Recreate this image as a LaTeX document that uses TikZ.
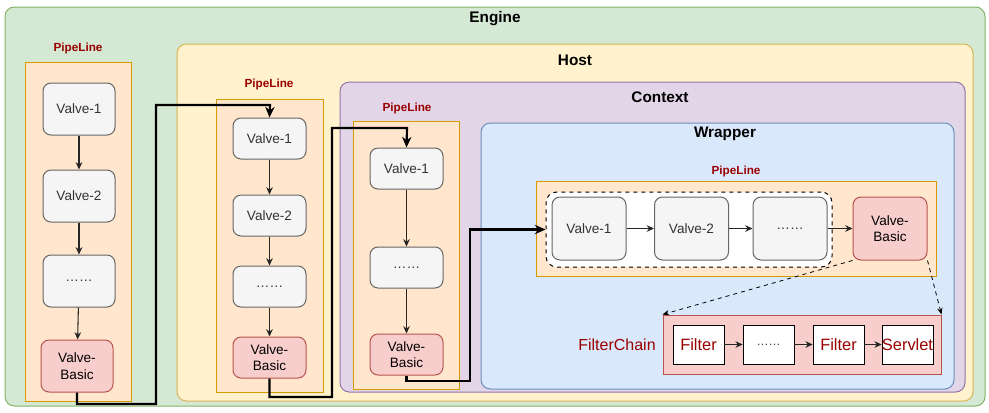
\documentclass[tikz,border=0pt]{standalone}
\usepackage{fontspec}
\setmainfont{Liberation Sans}
\usetikzlibrary{arrows.meta, positioning, fit, calc}

\definecolor{engineFill}{HTML}{D5E8D4}
\definecolor{engineLine}{HTML}{82B366}
\definecolor{hostFill}{HTML}{FFF2CC}
\definecolor{hostLine}{HTML}{D6B656}
\definecolor{ctxFill}{HTML}{E1D5E7}
\definecolor{ctxLine}{HTML}{9673A6}
\definecolor{wrapFill}{HTML}{DAE8FC}
\definecolor{wrapLine}{HTML}{6C8EBF}
\definecolor{pipeFill}{HTML}{FFE6CC}
\definecolor{pipeLine}{HTML}{D79B00}
\definecolor{valveFill}{HTML}{F5F5F5}
\definecolor{valveLine}{HTML}{666666}
\definecolor{valveText}{HTML}{333333}
\definecolor{basicFill}{HTML}{F8CECC}
\definecolor{basicLine}{HTML}{B85450}
\definecolor{darkRed}{HTML}{990000}

\tikzset{
  layer/.style={draw, rounded corners=7pt, inner sep=0pt, line width=0.75pt},
  pipe/.style={draw=pipeLine, fill=pipeFill, inner sep=0pt, line width=0.75pt},
  title/.style={font=\bfseries\fontsize{11.5}{13}\selectfont},
  pipetitle/.style={font=\bfseries\fontsize{8.8}{10}\selectfont, text=darkRed},
  vsize/.style 2 args={minimum width=#1, minimum height=#2},
  valve/.style={draw=valveLine, fill=valveFill, rounded corners=6pt, text=valveText,
    font=\fontsize{10.2}{12.5}\selectfont, align=center, inner sep=0pt, line width=0.75pt},
  basic/.style={valve, draw=basicLine, fill=basicFill, text=black},
  filterbox/.style={draw=black, fill=white, inner sep=0pt, vsize={38.25pt}{29.25pt},
    text=darkRed, font=\fontsize{12.3}{14}\selectfont},
  link/.style={-{Stealth[length=5.5pt,width=5pt]}, line width=0.8pt, draw=black!85},
  flow/.style={-{Stealth[length=8pt,width=7pt]}, line width=1.6pt},
  hint/.style={-{Stealth[length=5pt,width=4pt]}, dashed, line width=0.6pt}
}

\begin{document}
\begin{tikzpicture}[x=0.75pt, y=-0.75pt]
\useasboundingbox (0,0) rectangle (989,412);

% nested containers
\node[layer, draw=engineLine, fill=engineFill, fit={(5,7) (985,406)}] (engine) {};
\node[title] (engine-t) at (495,19) {Engine};
\node[layer, draw=hostLine, fill=hostFill, fit={(177,44) (973,401)}] (host) {};
\node[title] (host-t) at (575,60) {Host};
\node[layer, draw=ctxLine, fill=ctxFill, fit={(340,82) (965,392)}] (context) {};
\node[title] (context-t) at (660,97) {Context};
\node[layer, draw=wrapLine, fill=wrapFill, fit={(481,123) (954,389)}] (wrapper) {};
\node[title] (wrapper-t) at (725,134) {Wrapper};

% pipelines
\node[pipe, fit={(25,62) (131,401)}] (pipe-a) {};
\node[pipetitle] at (78,48) {PipeLine};
\node[pipe, fit={(216,99) (323,392)}] (pipe-b) {};
\node[pipetitle] at (269,84) {PipeLine};
\node[pipe, fit={(353,121) (459,389)}] (pipe-c) {};
\node[pipetitle] at (407,108) {PipeLine};
\node[pipe, fit={(536,181) (936,276)}] (pipe-d) {};
\node[pipetitle] at (736,171) {PipeLine};
\node[draw, dashed, fill=white, rounded corners=8pt, line width=0.75pt, inner sep=0pt,
  fit={(546,192) (832,267)}] (dash) {};

% Engine pipeline
\foreach \name/\y/\txt in {pa1/109/Valve-1, pa2/196/Valve-2, pa3/281/……}
  \node[valve, vsize={54pt}{39pt}] (\name) at (79,\y) {\txt};
\node[basic, vsize={54pt}{39pt}] (pa4) at (77,366) {Valve-\\Basic};

% Host pipeline
\foreach \name/\y/\txt in {pb1/138.5/Valve-1, pb2/215.5/Valve-2, pb3/286.5/……}
  \node[valve, vsize={54.75pt}{30.75pt}] (\name) at (269.5,\y) {\txt};
\node[basic, vsize={54.75pt}{30.75pt}] (pb4) at (269.5,357.5) {Valve-\\Basic};

% Context pipeline
\foreach \name/\y/\txt in {pc1/168.5/Valve-1, pc2/267.5/……}
  \node[valve, vsize={54.75pt}{30.75pt}] (\name) at (406.5,\y) {\txt};
\node[basic, vsize={54.75pt}{30.75pt}] (pc3) at (406.5,354.5) {Valve-\\Basic};

% Wrapper pipeline
\foreach \name/\x/\txt in {pd1/589/Valve-1, pd2/691.5/Valve-2, pd3/790/……}
  \node[valve, vsize={55.5pt}{47.25pt}] (\name) at (\x,228.5) {\txt};
\node[basic, vsize={55.5pt}{47.25pt}] (pd4) at (890,228.5) {Valve-\\Basic};

% filter chain
\node[draw=basicLine, fill=basicFill, inner sep=0pt, line width=0.75pt,
  fit={(663,315) (941,374)}] (chain) {};
\node[text=darkRed, font=\fontsize{12}{14}\selectfont] (chain-t) at (617,345) {FilterChain};
\foreach \name/\x/\txt in {f1/698.5/Filter, f2/768.5/{\textcolor{valveText}{\small ……}}, f3/838.5/Filter, f4/907.5/Servlet}
  \node[filterbox] (\name) at (\x,344.5) {\txt};

% valve links
\foreach \a/\b in {pa1/pa2, pa2/pa3, pa3/pa4, pb1/pb2, pb2/pb3, pb3/pb4, pc1/pc2, pc2/pc3,
  pd1/pd2, pd2/pd3, pd3/pd4, f1/f2, f2/f3, f3/f4}
  \draw[link] (\a) -- (\b);

% hand-over between containers
\draw[flow] (pa4.south) |- (156,404) |- (270,105) -- (pb1.north);
\draw[flow] (pb4.south) |- (332,397) |- (407,128) -- (pc1.north);
\draw[flow] (pc3.south) |- (470,381) |- (dash.west);

\draw[hint] (pd4.south west) -- (chain.north west);
\draw[hint] (pd4.south east) -- (chain.north east);
\end{tikzpicture}
\end{document}
